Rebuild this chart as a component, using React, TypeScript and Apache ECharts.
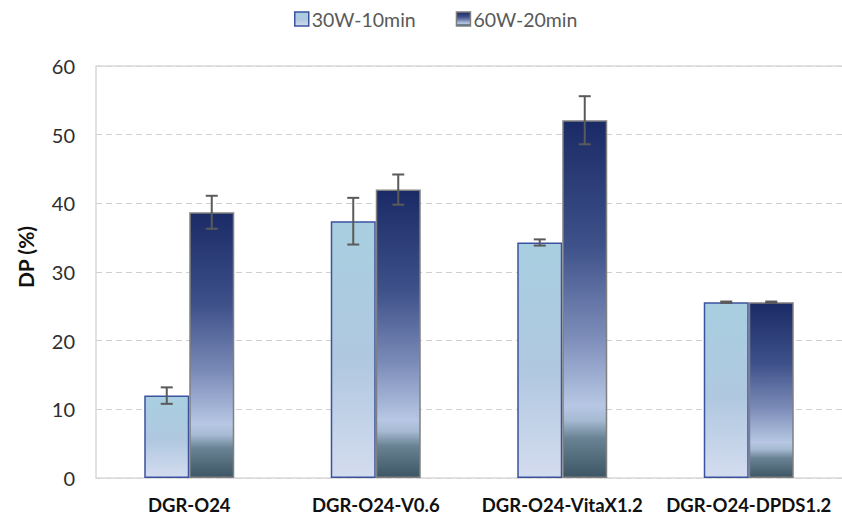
import React, { useEffect, useRef } from "react";
import * as echarts from "echarts";

const categories = ["DGR-O24", "DGR-O24-V0.6", "DGR-O24-VitaX1.2", "DGR-O24-DPDS1.2"];
const seriesNames = ["30W-10min", "60W-20min"];
const values30 = [12.0, 37.4, 34.3, 25.6];
const err30 = [1.2, 3.4, 0.45, 0.1];
const values60 = [38.7, 42.0, 52.1, 25.6];
const err60 = [2.4, 2.2, 3.5, 0.1];
const yTicks = [0, 10, 20, 30, 40, 50, 60];

const FONT = "Lato, 'Noto Sans', sans-serif";

const grad30 = new echarts.graphic.LinearGradient(0, 0, 0, 1, [
  { offset: 0, color: "#a8cfe0" },
  { offset: 0.55, color: "#b0c8e0" },
  { offset: 1, color: "#d4dcef" },
]);
const grad60 = new echarts.graphic.LinearGradient(0, 0, 0, 1, [
  { offset: 0, color: "#1a2a66" },
  { offset: 0.35, color: "#3e5189" },
  { offset: 0.6, color: "#7b8bb8" },
  { offset: 0.8, color: "#b7c7e4" },
  { offset: 0.84, color: "#a6bad2" },
  { offset: 0.89, color: "#6a8394" },
  { offset: 1, color: "#3d5665" },
]);

function errorSeries(vals: number[], errs: number[], idx: number) {
  const data = vals.map((v, i) => [i, v - errs[i], v + errs[i]]);
  return {
    type: "custom",
    name: "err" + idx,
    silent: true,
    z: 10,
    renderItem: (params: any, api: any) => {
      const i = api.value(0);
      const lo = api.coord([i, api.value(1)]);
      const hi = api.coord([i, api.value(2)]);
      const bw = 45;
      const x = lo[0] + (idx === 0 ? -bw / 2 : bw / 2);
      const cap = 6;
      const style = { stroke: "#5a5a5a", lineWidth: 2 };
      return {
        type: "group",
        children: [
          { type: "line", shape: { x1: x, y1: hi[1], x2: x, y2: lo[1] }, style },
          { type: "line", shape: { x1: x - cap, y1: hi[1], x2: x + cap, y2: hi[1] }, style },
          { type: "line", shape: { x1: x - cap, y1: lo[1], x2: x + cap, y2: lo[1] }, style },
        ],
      };
    },
    data,
  };
}

export default function App() {
  const ref = useRef<HTMLDivElement>(null);
  useEffect(() => {
    const chart = echarts.init(ref.current!, null, { renderer: "svg" });
    chart.setOption({
      animation: false,
      backgroundColor: "#ffffff",
      textStyle: { fontFamily: FONT },
      legend: {
        top: 4,
        left: 289,
        itemWidth: 14,
        itemHeight: 14,
        itemGap: 40,
        textStyle: { fontSize: 19.5, color: "#595959", fontFamily: FONT, padding: [0, 0, 0, -2] },
        data: [
          { name: seriesNames[0], icon: "rect", itemStyle: { color: grad30, borderColor: "#3b52a0", borderWidth: 1.5 } },
          { name: seriesNames[1], icon: "rect", itemStyle: { color: grad60, borderColor: "#7f7f7f", borderWidth: 1.5 } },
        ],
      },
      grid: { left: 96, top: 66, width: 753, height: 412, show: false },
      xAxis: {
        type: "category",
        data: categories,
        axisLine: { lineStyle: { color: "#d9d9d9", width: 1.5 } },
        axisTick: { show: false },
        axisLabel: { interval: 0, fontSize: 18.5, fontWeight: "bold", color: "#111111", margin: 17, fontFamily: FONT },
      },
      yAxis: {
        type: "value",
        min: 0,
        max: 60,
        interval: 10,
        axisLine: { show: true, lineStyle: { color: "#d9d9d9", width: 1.5 } },
        axisTick: { show: false },
        axisLabel: {
          fontSize: 20,
          color: "#2e2e2e",
          margin: 21,
          fontFamily: FONT,
          formatter: (v: number) => (yTicks.includes(v) ? String(v) : ""),
        },
        splitLine: {
          show: true,
          lineStyle: { color: "#d0d0d0", type: [6, 4], width: 1.2 },
        },
      },
      graphic: [
        {
          type: "line",
          shape: { x1: 96, y1: 66, x2: 842, y2: 66 },
          style: { stroke: "#d9d9d9", lineWidth: 1.5 },
          z: 5,
        },
        {
          type: "text",
          x: 25,
          y: 257,
          rotation: Math.PI / 2,
          style: {
            text: "DP (%)",
            fontSize: 21,
            fontWeight: "bold",
            fill: "#111111",
            fontFamily: FONT,
            align: "center",
            verticalAlign: "middle",
          },
        },
      ],
      series: [
        {
          name: seriesNames[0],
          type: "bar",
          barWidth: 45,
          barGap: "0%",
          data: values30,
          itemStyle: { color: grad30, borderColor: "#3b52a0", borderWidth: 1.5 },
        },
        {
          name: seriesNames[1],
          type: "bar",
          barWidth: 45,
          barGap: "0%",
          data: values60,
          itemStyle: { color: grad60, borderColor: "#808080", borderWidth: 1.5 },
        },
        errorSeries(values30, err30, 0),
        errorSeries(values60, err60, 1),
      ],
    });
    return () => chart.dispose();
  }, []);
  return <div ref={ref} style={{ width: 842, height: 517, position: "absolute", left: 0, top: 0 }} />;
}
